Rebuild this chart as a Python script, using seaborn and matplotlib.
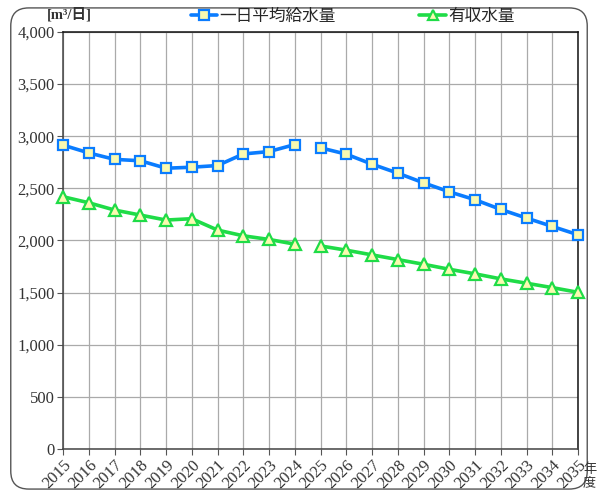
import matplotlib
matplotlib.use("Agg")
import matplotlib.pyplot as plt
import numpy as np
import pandas as pd
import seaborn as sns
from matplotlib.lines import Line2D
from matplotlib.patches import FancyBboxPatch
from matplotlib.ticker import FuncFormatter, MultipleLocator

years = list(range(2015, 2036))
supply = [2915, 2840, 2778, 2765, 2693, 2703, 2719, 2830, 2853, 2920,
          2889, 2828, 2732, 2646, 2553, 2467, 2391, 2298, 2215, 2135, 2055]
billed = [2420, 2362, 2292, 2244, 2196, 2209, 2100, 2045, 2010, 1965,
          1948, 1907, 1862, 1817, 1772, 1724, 1680, 1632, 1590, 1548, 1503]
# 実績 (~2024) と推計 (2025~) で線を切る
period = ["実績" if y <= 2024 else "推計" for y in years]
series_names = ["一日平均給水量", "有収水量"]
series_colors = ["#0a7cff", "#1fdc47"]
series_markers = ["s", "^"]

sns.set_theme(style="white")
plt.rcParams["font.family"] = ["Liberation Serif", "Noto Sans CJK JP", "DejaVu Sans"]

df = pd.DataFrame({"year": years * 2,
                   "value": supply + billed,
                   "series": [series_names[0]] * len(years) + [series_names[1]] * len(years),
                   "period": period * 2})

fig = plt.figure(figsize=(5.98, 4.95), dpi=100)
ax = fig.add_axes([0.1054, 0.0929, 0.8612, 0.8425])

frame = FancyBboxPatch((0.018, 0.012), 0.964, 0.972, boxstyle="round,pad=0,rounding_size=0.03",
                       transform=fig.transFigure, facecolor="none", edgecolor="#555555",
                       linewidth=1.0, mutation_aspect=598 / 495)
fig.patches.append(frame)

for name, color, marker in zip(series_names, series_colors, series_markers):
    sub = df[df["series"] == name]
    sns.lineplot(data=sub, x="year", y="value", units="period", estimator=None,
                 color=color, linewidth=2.6, marker=marker, markersize=7.5 if marker == "s" else 8.5,
                 markerfacecolor="#fafab0", markeredgecolor=color, markeredgewidth=1.6,
                 clip_on=False, zorder=5, ax=ax)

ax.set_xlim(2015, 2035)
ax.set_ylim(0, 4000)
ax.xaxis.set_major_locator(MultipleLocator(1))
ax.yaxis.set_major_locator(MultipleLocator(500))
ax.yaxis.set_major_formatter(FuncFormatter(lambda v, p: f"{int(v):,}"))
ax.grid(True, color="#aaaaaa", linewidth=0.9)
ax.set_axisbelow(True)
for s in ax.spines.values():
    s.set_color("#111111")
    s.set_linewidth(1.1)
ax.spines["left"].set_color("#444444")
ax.spines["bottom"].set_color("#444444")
ax.tick_params(axis="both", length=4, width=0.8, color="#555555", labelsize=12,
               labelcolor="#333333", pad=2, bottom=True, left=True)
plt.setp(ax.get_xticklabels(), rotation=45, ha="right", rotation_mode="anchor")
ax.set_xlabel("")
ax.set_ylabel("")

fig.text(0.079, 0.956, "[m³/日]", fontsize=10.5, fontweight="bold", color="#333333",
         ha="left", va="bottom")
fig.text(0.986, 0.038, "年\n度", fontsize=9.5, color="#333333", ha="center", va="center",
         linespacing=1.0, family=["Noto Sans CJK JP", "DejaVu Sans"])

handles = [Line2D([], [], color=c, marker=m, linewidth=2.6, markersize=7.5,
                  markerfacecolor="#fafab0", markeredgecolor=c, markeredgewidth=1.6)
           for c, m in zip(series_colors, series_markers)]
fig.legend(handles, series_names, loc="center", bbox_to_anchor=(0.59, 0.966), ncol=2,
           frameon=False, columnspacing=5.0, handlelength=1.6, handletextpad=0.15,
           prop={"family": ["Noto Sans CJK JP", "DejaVu Sans"], "size": 12})

fig.savefig("out.png", dpi=100)
